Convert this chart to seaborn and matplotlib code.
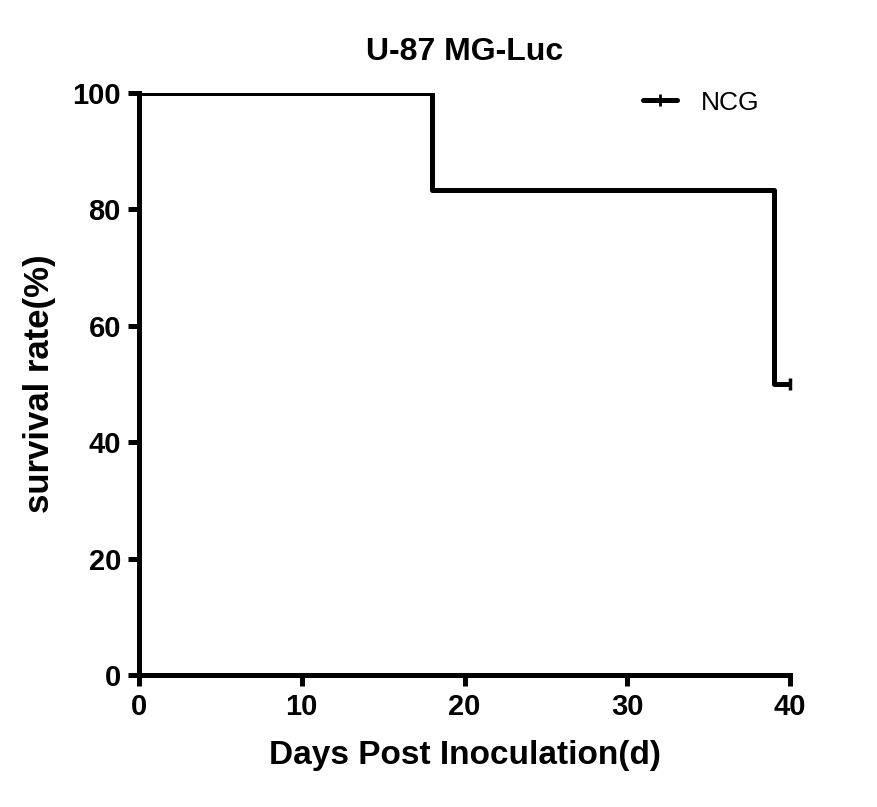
import pandas as pd
import matplotlib.pyplot as plt
import seaborn as sns
from matplotlib.lines import Line2D

# Kaplan-Meier steps
days = [0, 18, 39, 40]
survival = [100, 83.33, 50, 50]
censor_days = [40]
censor_surv = [50]
group = 'NCG'

df = pd.DataFrame({'days': days, 'survival': survival})

sns.set_theme(style='ticks')
plt.rcParams['font.family'] = ['Liberation Sans', 'DejaVu Sans']
plt.rcParams.update({'text.color': 'black', 'axes.labelcolor': 'black',
                     'xtick.color': 'black', 'ytick.color': 'black',
                     'axes.edgecolor': 'black'})

fig = plt.figure(figsize=(8.77, 8.07), dpi=100)
ax = fig.add_axes([0.1585, 0.1636, 0.7423, 0.7212])

sns.lineplot(data=df, x='days', y='survival', drawstyle='steps-post',
             color='black', linewidth=3.6, ax=ax)
ax.plot(censor_days, censor_surv, marker='|', markersize=9, markeredgewidth=2.5,
        color='black', linestyle='none', clip_on=False)

ax.set_xlim(0, 40)
ax.set_ylim(0, 100)
ax.set_xticks([0, 10, 20, 30, 40])
ax.set_yticks([0, 20, 40, 60, 80, 100])
sns.despine(ax=ax)
for s in ['left', 'bottom']:
    ax.spines[s].set_linewidth(3.6)
ax.tick_params(axis='both', length=8, width=3.6, labelsize=21, pad=5)
for lab in ax.get_xticklabels() + ax.get_yticklabels():
    lab.set_fontweight('bold')

ax.set_xlabel('Days Post Inoculation(d)', fontsize=24, fontweight='bold', labelpad=14)
ax.set_ylabel('survival rate(%)', fontsize=25, fontweight='bold', labelpad=12)
ax.set_title('U-87 MG-Luc', fontsize=23, fontweight='bold', pad=24)

handle = Line2D([], [], color='black', linewidth=3.6, marker='|',
                markersize=8, markeredgewidth=2)
ax.legend([handle], [group], loc='upper right', frameon=False,
          prop={'size': 19}, handlelength=1.3, handletextpad=0.9,
          bbox_to_anchor=(0.99, 1.045))

fig.savefig('out.png', dpi=100)
